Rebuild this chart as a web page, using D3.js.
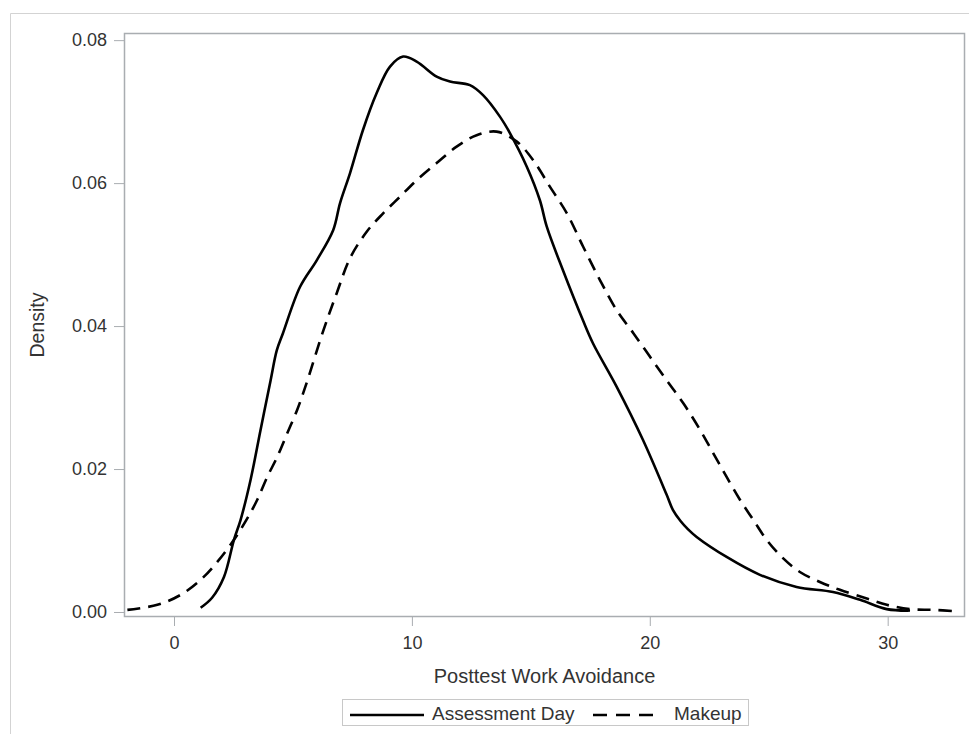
<!DOCTYPE html>
<html>
<head>
<meta charset="utf-8">
<script src="https://cdn.jsdelivr.net/npm/d3@7"></script>
<style>
  html, body { margin: 0; padding: 0; background: #fff; }
  svg { display: block; font-family: "Liberation Sans", Arial, sans-serif; }
</style>
</head>
<body>
<svg id="chart" width="969" height="734"></svg>
<script>
// Kernel density estimates of Posttest Work Avoidance, by session type
const assessmentX = [1.12, 1.60, 2.10, 2.52, 2.80, 3.22, 3.64, 4.06, 4.32, 4.58, 5.30, 6.00, 6.69, 6.98, 7.40, 7.94, 8.52, 9.08, 9.63, 10.20, 11.04, 11.60, 12.44, 12.99, 13.70, 14.12, 14.83, 15.38, 15.67, 16.35, 17.19, 17.61, 18.61, 19.71, 20.71, 20.97, 21.30, 21.60, 21.97, 23.23, 24.63, 26.17, 27.70, 28.84, 29.96, 30.94];
const assessmentY = [0.0006, 0.0020, 0.0049, 0.0101, 0.0129, 0.0185, 0.0255, 0.0324, 0.0366, 0.0390, 0.0455, 0.0492, 0.0534, 0.0572, 0.0614, 0.0674, 0.0726, 0.0763, 0.0777, 0.0770, 0.0749, 0.0742, 0.0737, 0.0723, 0.0693, 0.0670, 0.0623, 0.0576, 0.0539, 0.0478, 0.0408, 0.0376, 0.0315, 0.0241, 0.0164, 0.0143, 0.0127, 0.0116, 0.0105, 0.0077, 0.0052, 0.0035, 0.0028, 0.0017, 0.0004, 0.0002];

const makeupX = [-1.96, -0.70, 0.28, 1.12, 1.82, 2.52, 3.08, 3.50, 3.92, 4.34, 4.76, 5.18, 5.54, 6.28, 6.84, 7.40, 8.10, 8.80, 9.50, 10.20, 11.04, 11.88, 12.72, 13.56, 14.41, 15.10, 15.80, 16.51, 17.20, 17.91, 18.61, 19.31, 20.01, 20.71, 21.41, 22.11, 22.67, 23.23, 23.79, 24.35, 24.91, 25.61, 26.31, 27.15, 27.99, 29.12, 29.96, 30.94, 31.92, 32.90];
const makeupY = [0.0003, 0.0010, 0.0024, 0.0045, 0.0070, 0.0101, 0.0131, 0.0157, 0.0189, 0.0217, 0.0250, 0.0283, 0.0317, 0.0394, 0.0446, 0.0495, 0.0532, 0.0558, 0.0581, 0.0604, 0.0628, 0.0651, 0.0667, 0.0672, 0.0658, 0.0632, 0.0595, 0.0558, 0.0511, 0.0464, 0.0422, 0.0390, 0.0357, 0.0324, 0.0292, 0.0255, 0.0222, 0.0189, 0.0157, 0.0129, 0.0101, 0.0075, 0.0056, 0.0042, 0.0031, 0.0019, 0.0010, 0.0004, 0.0003, 0.0001];

const xTicks = [0, 10, 20, 30];
const yTicks = [0.00, 0.02, 0.04, 0.06, 0.08];
const seriesNames = ["Assessment Day", "Makeup"];

const svg = d3.select("#chart");
const plot = { left: 124, top: 33, right: 965, bottom: 617 };

const x = d3.scaleLinear().domain([-2.102, 33.25]).range([plot.left, plot.right]);
const y = d3.scaleLinear().domain([-0.0007, 0.081]).range([plot.bottom, plot.top]);

const textColor = "#333";
const frameColor = "#a9adb1";

// outer graph border
svg.append("path")
  .attr("d", "M10.5,740 V13.5 H975")
  .attr("fill", "none")
  .attr("stroke", "#d3d3d3")
  .attr("stroke-width", 1);

// clip region for curves
svg.append("defs").append("clipPath").attr("id", "plotClip")
  .append("rect")
  .attr("x", plot.left).attr("y", plot.top)
  .attr("width", plot.right - plot.left).attr("height", plot.bottom - plot.top);

// axes
const xAxis = svg.append("g")
  .attr("transform", `translate(0,${plot.bottom})`)
  .call(d3.axisBottom(x).tickValues(xTicks).tickSize(9).tickPadding(10).tickFormat(d3.format("d")));
const yAxis = svg.append("g")
  .attr("transform", `translate(${plot.left},0)`)
  .call(d3.axisLeft(y).tickValues(yTicks).tickSize(10).tickPadding(7).tickFormat(d3.format(".2f")));

[xAxis, yAxis].forEach(g => {
  g.select(".domain").remove();
  g.selectAll(".tick line").attr("stroke", frameColor).attr("stroke-width", 1);
  g.selectAll(".tick text").attr("fill", textColor).style("font-size", "18px");
});
xAxis.selectAll(".tick text").attr("dy", "0.71em");

// plot frame
svg.append("rect")
  .attr("x", plot.left + 0.5).attr("y", plot.top + 0.5)
  .attr("width", plot.right - plot.left - 1).attr("height", plot.bottom - plot.top - 1)
  .attr("fill", "none")
  .attr("stroke", frameColor)
  .attr("stroke-width", 1.5);

// axis titles
svg.append("text")
  .attr("x", (plot.left + plot.right) / 2).attr("y", 683)
  .attr("text-anchor", "middle")
  .attr("fill", textColor)
  .style("font-size", "20px")
  .text("Posttest Work Avoidance");

svg.append("text")
  .attr("transform", `translate(44,${(plot.top + plot.bottom) / 2}) rotate(-90)`)
  .attr("text-anchor", "middle")
  .attr("fill", textColor)
  .style("font-size", "19.5px")
  .text("Density");

// density curves
const line = d3.line()
  .x(d => x(d[0]))
  .y(d => y(d[1]))
  .curve(d3.curveCatmullRom.alpha(0.5));

const curves = svg.append("g").attr("clip-path", "url(#plotClip)");
const assessmentPts = assessmentX.map((v, i) => [v, assessmentY[i]]);
const makeupPts = makeupX.map((v, i) => [v, makeupY[i]]);

curves.append("path")
  .datum(makeupPts)
  .attr("d", line)
  .attr("fill", "none")
  .attr("stroke", "#000")
  .attr("stroke-width", 2.6)
  .attr("stroke-dasharray", "13,8");

curves.append("path")
  .datum(assessmentPts)
  .attr("d", line)
  .attr("fill", "none")
  .attr("stroke", "#000")
  .attr("stroke-width", 2.6);

// legend
const legend = svg.append("g");
legend.append("rect")
  .attr("x", 342.5).attr("y", 699.5).attr("width", 406).attr("height", 26)
  .attr("fill", "#fff").attr("stroke", "#c8c8c8").attr("stroke-width", 1);

legend.append("line")
  .attr("x1", 350).attr("x2", 424).attr("y1", 715).attr("y2", 715)
  .attr("stroke", "#000").attr("stroke-width", 2.6);
legend.append("text")
  .attr("x", 432).attr("y", 719.5)
  .attr("fill", textColor).style("font-size", "19px")
  .text(seriesNames[0]);

legend.append("line")
  .attr("x1", 593).attr("x2", 654).attr("y1", 715).attr("y2", 715)
  .attr("stroke", "#000").attr("stroke-width", 2.6)
  .attr("stroke-dasharray", "14,9");
legend.append("text")
  .attr("x", 674).attr("y", 719.5)
  .attr("fill", textColor).style("font-size", "19px")
  .text(seriesNames[1]);
</script>
</body>
</html>
